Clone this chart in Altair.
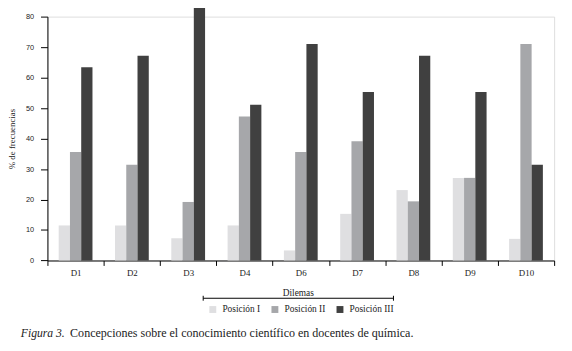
import altair as alt
import pandas as pd

categories = ["D1", "D2", "D3", "D4", "D6", "D7", "D8", "D9", "D10"]
series = ["Posición I", "Posición II", "Posición III"]
pos_I = [11.5, 11.5, 7.3, 11.5, 3.3, 15.3, 23.1, 27.1, 7.1]
pos_II = [35.6, 31.4, 19.2, 47.2, 35.6, 39.1, 19.4, 27.1, 71.0]
pos_III = [63.4, 67.2, 83.0, 51.1, 71.0, 55.3, 67.2, 55.3, 31.4]
colors = ["#dfdfe1", "#a6a7aa", "#404040"]
y_ticks = [0, 10, 20, 30, 40, 50, 60, 70, 80]
caption_italic = "Figura 3."
caption_rest = "Concepciones sobre el conocimiento científico en docentes de química."

rows = []
for vals, s in zip([pos_I, pos_II, pos_III], series):
    for c, v in zip(categories, vals):
        rows.append({"dilema": c, "posicion": s, "valor": v})
df = pd.DataFrame(rows)

FONT = "Liberation Serif"
SANS = "Liberation Sans"
TXT = "#222222"
W, H = 514, 247.4

bars = alt.Chart(df).mark_bar().encode(
    x=alt.X("dilema:N", sort=categories,
            scale=alt.Scale(paddingInner=0, paddingOuter=0),
            axis=alt.Axis(title="Dilemas", labelAngle=0, tickBand="extent",
                          tickSize=5, tickWidth=1, labelPadding=3, labelFontSize=9,
                          labelFont=FONT, titleFont=FONT, labelColor=TXT, titleColor=TXT,
                          titleX=254, titleY=33, titleBaseline="middle",
                          titleFontSize=9.5, titleFontWeight="normal",
                          domainColor="black", tickColor="black")),
    xOffset=alt.XOffset("posicion:N", sort=series,
                        scale=alt.Scale(paddingInner=0, paddingOuter=1)),
    y=alt.Y("valor:Q", scale=alt.Scale(domain=[0, 80], nice=False),
            axis=alt.Axis(title="% de frecuencias", values=y_ticks, tickSize=7,
                          labelPadding=7, labelFontSize=7.5, grid=False,
                          labelFont=SANS, titleFont=FONT, labelColor=TXT, titleColor=TXT,
                          titleX=-36, titleY=H / 2, titleAngle=270,
                          titleBaseline="middle", titleAlign="center",
                          titleFontSize=9, titleFontWeight="normal",
                          domainColor="black", tickColor="black")),
    color=alt.Color("posicion:N", sort=series,
                    scale=alt.Scale(domain=series, range=colors),
                    legend=alt.Legend(title=None, orient="none", direction="horizontal",
                                      legendX=163, legendY=292, symbolType="square",
                                      symbolSize=49, symbolStrokeWidth=0,
                                      labelFont=FONT, labelColor=TXT,
                                      labelFontSize=9.5, labelOffset=5, columnPadding=10)),
)

one = pd.DataFrame({"k": [0]})
bracket = alt.Chart(one).mark_rule(color="black", strokeWidth=1).encode(
    x=alt.value(158), x2=alt.value(351), y=alt.value(285.7))
cap_l = alt.Chart(one).mark_rule(color="black", strokeWidth=1).encode(
    x=alt.value(158), y=alt.value(283.2), y2=alt.value(288.2))
cap_r = alt.Chart(one).mark_rule(color="black", strokeWidth=1).encode(
    x=alt.value(351), y=alt.value(283.2), y2=alt.value(288.2))
cap1 = alt.Chart(one).mark_text(align="left", baseline="middle", font=FONT,
                                fontSize=11.8, fontStyle="italic", color=TXT).encode(
    x=alt.value(-27), y=alt.value(320.7), text=alt.value(caption_italic))
cap2 = alt.Chart(one).mark_text(align="left", baseline="middle", font=FONT,
                                fontSize=12.2, color=TXT).encode(
    x=alt.value(23), y=alt.value(320.7), text=alt.value(caption_rest))

chart = alt.layer(bars, bracket, cap_l, cap_r, cap1, cap2).properties(
    width=W, height=H,
    autosize=alt.AutoSizeParams(type="none"),
    padding={"left": 40, "top": 6.3, "right": 10, "bottom": 85},
).configure_view(stroke=None).configure(background="white")

chart.save("out.html", embed_options={"renderer": "svg", "actions": False})
